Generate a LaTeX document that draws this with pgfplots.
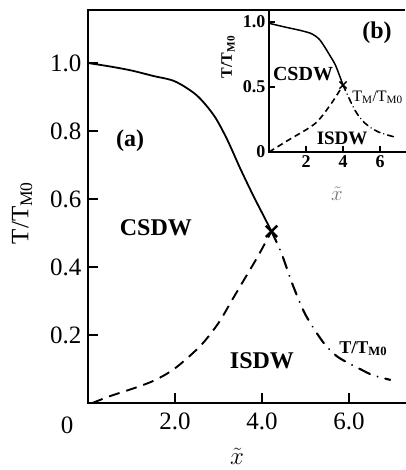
\documentclass[border=0pt]{standalone}
\usepackage{pgfplots}
\pgfplotsset{compat=1.18}
\usepackage{fontspec}
\setmainfont{Liberation Serif}
\begin{document}
\begin{tikzpicture}[x=1pt,y=1pt]
\path[use as bounding box] (0,0) rectangle (405,470);
\begin{axis}[
  at={(88pt,67pt)}, anchor=south west,
  scale only axis, width=317pt, height=393pt,
  xmin=0, xmax=7.29, ymin=0, ymax=1.156,
  axis lines=left, axis line style={-, line width=2.6pt, line cap=rect},
  tick align=inside, major tick length=10pt,
  tick style={black, line width=2pt},
  xtick={2,4,6}, xticklabels={2.0,4.0,6.0},
  ytick={0.2,0.4,0.6,0.8,1.0}, yticklabels={0.2,0.4,0.6,0.8,1.0},
  tick label style={font=\fontsize{25}{28}\selectfont},
  yticklabel style={xshift=-3pt},
  xticklabel style={yshift=-6pt},
  /pgf/number format/assume math mode=true,
  clip=false,
]
\addplot[black, line width=1.8pt, smooth] coordinates {
(0,1.0) (0.5,0.99) (1.0,0.978) (1.5,0.962) (2.0,0.946) (2.5,0.905) (2.9,0.845) (3.2,0.775) (3.5,0.69) (3.8,0.61) (4.0,0.56) (4.22,0.505)};
\addplot[black, line width=1.9pt, dash pattern=on 11pt off 7pt, smooth] coordinates {
(0.1,0.0) (0.5,0.02) (1.0,0.041) (1.45,0.062) (1.8,0.085) (2.1,0.112) (2.6,0.17) (3.0,0.235) (3.3,0.3) (3.6,0.365) (3.9,0.43) (4.22,0.505)};
\addplot[black, line width=2.1pt, line cap=round, dash pattern=on 12pt off 8pt on 0.01pt off 8pt, smooth] coordinates {
(4.22,0.505) (4.45,0.44) (4.7,0.35) (5.0,0.26) (5.4,0.18) (5.7,0.14) (5.95,0.12) (6.3,0.097) (6.55,0.082) (6.95,0.068)};
\addplot[black, only marks, mark=x, mark size=8pt, mark options={line width=2.5pt}] coordinates {(4.22,0.505)};
\draw[line width=2.6pt] (rel axis cs:0,1) -- (rel axis cs:1,1);
\node[font=\bfseries\fontsize{24}{28}\selectfont] at (axis cs:0.97,0.77) {(a)};
\node[font=\bfseries\fontsize{24}{28}\selectfont] at (axis cs:1.56,0.515) {CSDW};
\node[font=\bfseries\fontsize{24}{28}\selectfont] at (axis cs:4.0,0.124) {ISDW};
\node[font=\bfseries\fontsize{18}{20}\selectfont] at (axis cs:6.33,0.16) {T/T\textsubscript{M0}};
\node[font=\fontsize{25}{28}\selectfont] at (axis cs:-0.48,-0.065) {0};
\end{axis}
\begin{axis}[
  at={(269pt,318pt)}, anchor=south west,
  scale only axis, width=136pt, height=140pt,
  xmin=0, xmax=7.35, ymin=0, ymax=1.077,
  axis lines=left, axis line style={-, line width=2.2pt, line cap=rect},
  tick align=inside, major tick length=6pt,
  tick style={black, line width=1.6pt},
  xtick={2,4,6}, ytick={0,0.5,1}, yticklabels={0,0.5,1.0},
  tick label style={font=\bfseries\fontsize{18}{20}\selectfont},
  /pgf/number format/assume math mode=true,
  clip=false,
]
\addplot[black, line width=1.5pt, smooth] coordinates {
(0,0.99) (0.9,0.96) (1.7,0.935) (2.3,0.91) (2.7,0.87) (3.0,0.81) (3.3,0.74) (3.6,0.665) (4.0,0.515)};
\addplot[black, line width=1.6pt, dash pattern=on 6pt off 4pt, smooth] coordinates {
(0,0) (1.03,0.09) (2.5,0.22) (3.4,0.38) (4.0,0.515)};
\addplot[black, line width=1.6pt, line cap=round, dash pattern=on 6pt off 4pt on 0.01pt off 4pt, smooth] coordinates {
(4.0,0.515) (4.65,0.32) (5.2,0.22) (5.9,0.155) (6.8,0.115)};
\addplot[black, only marks, mark=x, mark size=5pt, mark options={line width=1.5pt}] coordinates {(4.0,0.515)};
\node[font=\bfseries\fontsize{24}{28}\selectfont] at (axis cs:5.84,0.92) {(b)};
\node[font=\bfseries\fontsize{20}{22}\selectfont] at (axis cs:1.84,0.60) {CSDW};
\node[font=\bfseries\fontsize{19}{22}\selectfont] at (axis cs:3.95,0.108) {ISDW};
\node[font=\fontsize{16}{18}\selectfont, anchor=west, inner sep=0pt] at (axis cs:4.49,0.42) {T\textsubscript{M}/T\textsubscript{M0}};
\end{axis}
\node[font=\fontsize{25}{28}\selectfont, rotate=90] at (22,257) {T/T\textsubscript{M0}};
\node[font=\fontsize{32}{34}\selectfont, inner sep=0pt] at (237,14) {$\tilde{x}$};
\node[font=\bfseries\fontsize{16}{18}\selectfont, rotate=90] at (228,413) {T/T\textsubscript{M0}};
\node[font=\fontsize{20}{22}\selectfont, text=black!55, inner sep=0pt] at (337,276) {$\tilde{x}$};
\end{tikzpicture}
\end{document}
